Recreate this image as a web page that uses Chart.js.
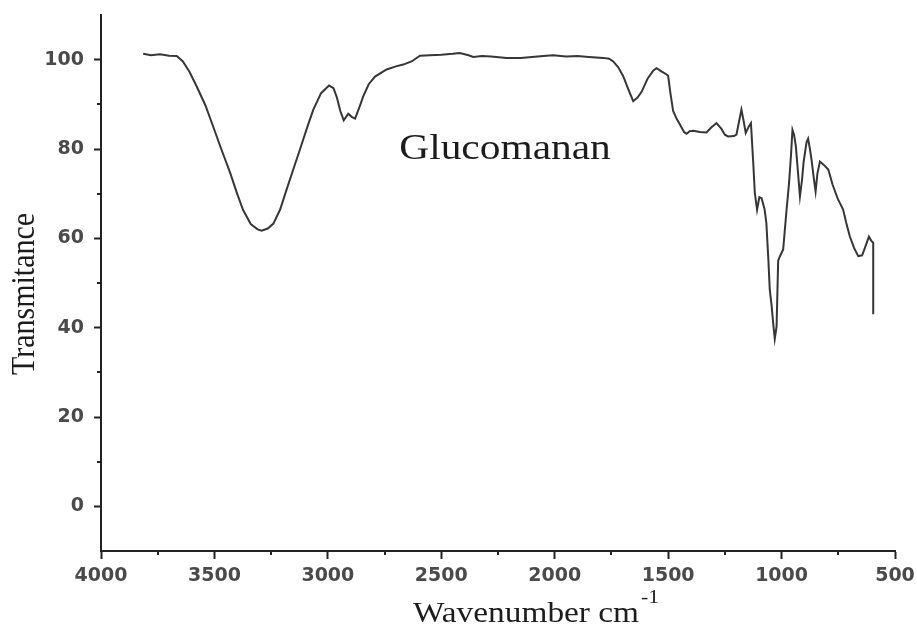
<!DOCTYPE html>
<html>
<head>
<meta charset="utf-8">
<title>Glucomanan FTIR</title>
<script src="https://cdn.jsdelivr.net/npm/chart.js@4.4.1/dist/chart.umd.min.js"></script>
<style>
  html, body { margin: 0; padding: 0; background: #ffffff; }
  canvas { display: block; }
</style>
</head>
<body>
<canvas id="ftir" width="917" height="631"></canvas>
<script>
// FTIR spectrum of glucomannan: wavenumber (cm-1) and transmittance
const wavenumber = [
  3814, 3780, 3740, 3700, 3666, 3639, 3610, 3578, 3540, 3506,
  3470, 3431, 3400, 3374, 3340, 3310, 3292, 3265, 3240, 3210,
  3182, 3150, 3123, 3090, 3064, 3030, 2995, 2975, 2960, 2945,
  2930, 2910, 2895, 2880, 2860, 2844, 2820, 2792, 2741, 2700,
  2668, 2631, 2594, 2550, 2500, 2450, 2418, 2380, 2359, 2320,
  2280, 2212, 2150, 2100, 2050, 2007, 1950, 1900, 1850, 1786,
  1760, 1742, 1720, 1698, 1675, 1654, 1635, 1617, 1590, 1565,
  1551, 1530, 1510, 1500, 1490, 1478, 1463, 1448, 1430, 1419,
  1405, 1390, 1360, 1331, 1310, 1287, 1265, 1250, 1236, 1210,
  1199, 1190, 1177, 1168, 1158, 1145, 1135, 1125, 1118, 1108,
  1098, 1088, 1075, 1067, 1058, 1052, 1044, 1037, 1030, 1022,
  1015, 1007, 993, 978, 967, 958, 952, 945, 937, 928,
  919, 910, 903, 890, 883, 875, 868, 858, 850, 842,
  831, 815, 794, 775, 751, 729, 715, 699, 680, 662,
  645, 633, 615, 605, 596, 596
];
const transmittance = [
  101.3, 101.0, 101.2, 100.9, 100.8, 99.6, 97.3, 94.0, 89.8, 85.1,
  80.0, 74.7, 70.0, 66.4, 63.2, 62.0, 61.7, 62.2, 63.3, 66.5,
  70.9, 75.8, 79.9, 85.0, 88.8, 92.5, 94.2, 93.6, 91.5, 88.5,
  86.4, 87.9, 87.2, 86.8, 89.5, 91.8, 94.5, 96.2, 97.8, 98.5,
  98.9, 99.6, 100.9, 101.0, 101.1, 101.3, 101.5, 101.0, 100.6, 100.8,
  100.7, 100.4, 100.4, 100.6, 100.8, 101.0, 100.7, 100.8, 100.6, 100.4,
  100.2, 99.6, 98.3, 96.3, 93.3, 90.7, 91.5, 92.8, 95.8, 97.6,
  98.1, 97.4, 96.8, 96.4, 92.5, 88.5, 86.8, 85.5, 83.8, 83.4,
  84.0, 84.1, 83.8, 83.7, 84.8, 85.8, 84.5, 83.2, 82.8, 82.9,
  83.2, 85.5, 88.8, 86.5, 83.6, 85.0, 85.8, 77.0, 70.2, 66.4,
  69.2, 69.0, 66.5, 63.4, 55.0, 48.5, 45.0, 41.0, 37.5, 40.3,
  55.0, 56.0, 57.5, 66.4, 72.4, 79.0, 84.3, 83.2, 80.6, 75.0,
  69.4, 73.0, 77.0, 81.5, 82.3, 80.0, 77.6, 73.5, 70.5, 74.5,
  77.2, 76.5, 75.4, 72.0, 68.7, 66.5, 63.5, 60.4, 57.8, 56.0,
  56.2, 57.8, 60.4, 59.5, 59.0, 43.0
];

// Axis ticks (major with labels, minor unlabeled)
const xTicks = [4000, 3500, 3000, 2500, 2000, 1500, 1000, 500];
const xMinorTicks = [3750, 3250, 2750, 2250, 1750, 1250, 750];
const yTicks = [0, 20, 40, 60, 80, 100];
const yMinorTicks = [10, 30, 50, 70, 90];

// Text
const sampleName = 'Glucomanan';
const sampleLabelAt = [2219, 77.8];
const xTitle = 'Wavenumber cm';
const xTitleSup = '-1';
const yTitle = 'Transmitance';

const serif = '"Liberation Serif", "Times New Roman", serif';
const inkColor = '#1c1c1c';
const axisColor = '#222222';

function stretchedText(ctx, text, px, py, font, align, sx, sy, rot) {
  ctx.save();
  ctx.translate(px, py);
  if (rot) ctx.rotate(rot);
  ctx.scale(sx, sy);
  ctx.font = font;
  ctx.textAlign = align;
  ctx.textBaseline = 'alphabetic';
  ctx.fillText(text, 0, 0);
  ctx.restore();
}

const decorations = {
  id: 'spectrumDecorations',
  afterDraw(chart) {
    const { ctx, chartArea, scales: { x, y } } = chart;
    ctx.save();
    // minor ticks
    ctx.strokeStyle = axisColor;
    ctx.lineWidth = 2;
    ctx.beginPath();
    xMinorTicks.forEach(v => {
      const px = Math.round(x.getPixelForValue(v));
      ctx.moveTo(px, chartArea.bottom);
      ctx.lineTo(px, chartArea.bottom + 4);
    });
    yMinorTicks.forEach(v => {
      const py = Math.round(y.getPixelForValue(v));
      ctx.moveTo(chartArea.left, py);
      ctx.lineTo(chartArea.left - 4, py);
    });
    ctx.stroke();

    ctx.fillStyle = inkColor;
    // sample name inside the plot
    stretchedText(ctx, sampleName,
      x.getPixelForValue(sampleLabelAt[0]), y.getPixelForValue(sampleLabelAt[1]),
      '36px ' + serif, 'center', 1.15, 1, 0);

    // x axis title with superscript
    const titleLeft = chartArea.left + 312;
    const titleBase = chartArea.bottom + 71;
    stretchedText(ctx, xTitle, titleLeft, titleBase, '29px ' + serif, 'left', 1.15, 1, 0);
    ctx.font = '29px ' + serif;
    const w = ctx.measureText(xTitle).width * 1.15;
    stretchedText(ctx, xTitleSup, titleLeft + w + 2, titleBase - 19, '19px ' + serif, 'left', 1.15, 1, 0);

    // y axis title, rotated
    stretchedText(ctx, yTitle, 34, (chartArea.top + chartArea.bottom) / 2 + 11,
      '30px ' + serif, 'center', 1, 1.15, -Math.PI / 2);
    ctx.restore();
  }
};

const tickFont = { family: '"DejaVu Sans", Verdana, sans-serif', size: 19, weight: 'bold' };

new Chart(document.getElementById('ftir'), {
  type: 'line',
  data: {
    datasets: [{
      data: wavenumber.map((w, i) => ({ x: w, y: transmittance[i] })),
      borderColor: '#363636',
      borderWidth: 2,
      pointRadius: 0,
      tension: 0,
      fill: false
    }]
  },
  options: {
    responsive: false,
    animation: false,
    devicePixelRatio: 1,
    layout: { padding: { top: 15, right: 22, left: 0, bottom: 0 } },
    plugins: { legend: { display: false }, tooltip: { enabled: false } },
    scales: {
      x: {
        type: 'linear',
        reverse: true,
        min: 500,
        max: 4000,
        afterBuildTicks: s => { s.ticks = xTicks.map(v => ({ value: v })); },
        afterFit: s => {
          s.height = 80;
          s.paddingLeft = 0; s.paddingRight = 0; s.paddingTop = 0; s.paddingBottom = 0;
        },
        grid: { drawOnChartArea: false, tickLength: 8, tickWidth: 2, tickColor: axisColor },
        border: { color: axisColor, width: 2 },
        ticks: {
          color: '#4a4a4a', font: tickFont, padding: 6, maxRotation: 0, autoSkip: false,
          callback: v => String(v)
        }
      },
      y: {
        type: 'linear',
        min: -10,
        max: 110,
        afterBuildTicks: s => { s.ticks = yTicks.map(v => ({ value: v })); },
        afterFit: s => {
          s.width = 101;
          s.paddingLeft = 0; s.paddingRight = 0; s.paddingTop = 0; s.paddingBottom = 0;
        },
        grid: { drawOnChartArea: false, tickLength: 7, tickWidth: 2, tickColor: axisColor },
        border: { color: axisColor, width: 2 },
        ticks: { color: '#4a4a4a', font: tickFont, padding: 10, callback: v => String(v) }
      }
    }
  },
  plugins: [decorations]
});
</script>
</body>
</html>
